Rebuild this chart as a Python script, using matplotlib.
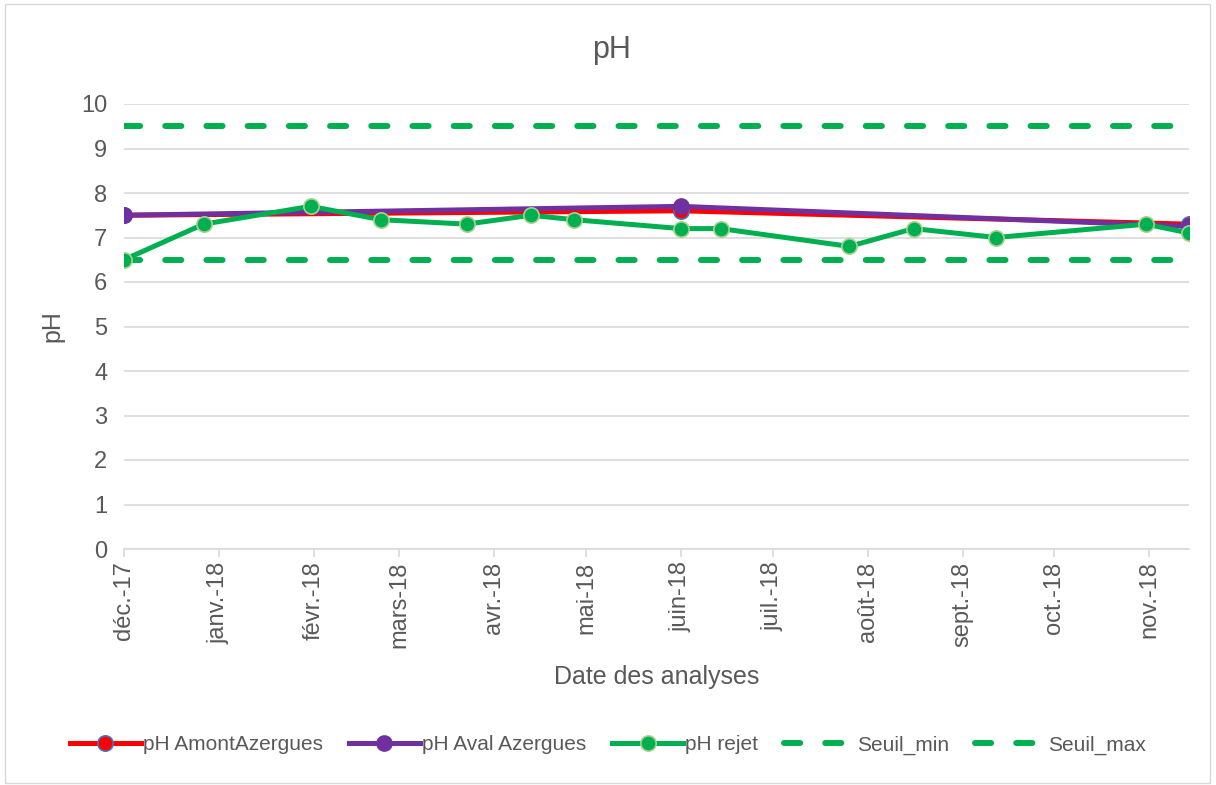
import datetime as dt
import matplotlib
matplotlib.use('Agg')
import matplotlib.pyplot as plt
from matplotlib.patches import Rectangle

# data
amont_dates = ['2017-12-01', '2018-06-01', '2018-11-14']
amont_ph = [7.5, 7.6, 7.3]

aval_dates = ['2017-12-01', '2018-06-01', '2018-11-14']
aval_ph = [7.5, 7.7, 7.25]

rejet_dates = ['2017-12-01', '2017-12-27', '2018-01-31', '2018-02-23', '2018-03-23',
               '2018-04-13', '2018-04-27', '2018-06-01', '2018-06-14', '2018-07-26',
               '2018-08-16', '2018-09-12', '2018-10-31', '2018-11-14']
rejet_ph = [6.5, 7.3, 7.7, 7.4, 7.3, 7.5, 7.4, 7.2, 7.2, 6.8, 7.2, 7.0, 7.3, 7.1]

seuil_min = 6.5
seuil_max = 9.5

month_starts = ['2017-12-01', '2018-01-01', '2018-02-01', '2018-03-01', '2018-04-01',
                '2018-05-01', '2018-06-01', '2018-07-01', '2018-08-01', '2018-09-01',
                '2018-10-01', '2018-11-01']
month_labels = ['déc.-17', 'janv.-18', 'févr.-18', 'mars-18', 'avr.-18', 'mai-18',
                'juin-18', 'juil.-18', 'août-18', 'sept.-18', 'oct.-18', 'nov.-18']


def to_dates(lst):
    return [dt.datetime.strptime(s, '%Y-%m-%d') for s in lst]


plt.rcParams['font.family'] = ['Liberation Sans', 'DejaVu Sans']
gray = '#595959'

W, H = 1216, 785
fig = plt.figure(figsize=(W / 100, H / 100), dpi=100)
fig.patches.append(Rectangle((5 / W, 2 / H), 1205 / W, 779 / H, transform=fig.transFigure,
                             fill=False, edgecolor='#d9d9d9', linewidth=1.0))

ax = fig.add_axes([124 / W, (H - 549) / H, (1189 - 124) / W, (549 - 104) / H])

x0 = dt.datetime(2017, 12, 1)
x1 = dt.datetime(2018, 11, 14)

l1, = ax.plot(to_dates(amont_dates), amont_ph, color='#ff0000', lw=3.6, marker='o',
              ms=11, mfc='#ff0000', mec='#4472c4', mew=1.2, zorder=3, label='pH AmontAzergues')
l2, = ax.plot(to_dates(aval_dates), aval_ph, color='#7030a0', lw=3.6, marker='o',
              ms=11, mfc='#7030a0', mec='#7030a0', mew=1.0, zorder=4, label='pH Aval Azergues')
l3, = ax.plot(to_dates(rejet_dates), rejet_ph, color='#00b050', lw=3.6, marker='o',
              ms=11, mfc='#00b050', mec='#a9d18e', mew=1.2, zorder=5, label='pH rejet')
l4, = ax.plot([x0, x1], [seuil_min, seuil_min], color='#00b050', lw=4.3,
              dashes=(2.7, 4.2), dash_capstyle='round', zorder=2, label='Seuil_min')
l5, = ax.plot([x0, x1], [seuil_max, seuil_max], color='#00b050', lw=4.3,
              dashes=(2.7, 4.2), dash_capstyle='round', zorder=2, label='Seuil_max')

ax.set_xlim(x0, x1)
ax.set_ylim(0, 10)
ax.set_yticks(range(0, 11))
ax.grid(axis='y', color='#d9d9d9', linewidth=1.2)
ax.set_axisbelow(True)
for s in ['top', 'right', 'left']:
    ax.spines[s].set_visible(False)
ax.spines['bottom'].set_color('#d9d9d9')
ax.spines['bottom'].set_linewidth(1.2)

ax.set_xticks(to_dates(month_starts))
ax.set_xticklabels(month_labels, rotation=90)
ax.tick_params(axis='x', colors='#d9d9d9', labelcolor=gray, labelsize=17, length=6,
               width=1.2, pad=3)
ax.tick_params(axis='y', length=0, labelcolor=gray, labelsize=17, pad=12)

ax.set_title('pH', fontsize=22, color=gray, pad=33, x=0.458)
ax.set_ylabel('pH', fontsize=18, color=gray, labelpad=12)
ax.set_xlabel('Date des analyses', fontsize=18, color=gray, labelpad=12)

fig.legend(handles=[l1, l2, l3, l4, l5], loc='center', ncol=5,
           bbox_to_anchor=(0.5, 1 - 745 / H), frameon=False, fontsize=15,
           handlelength=3.4, handletextpad=0.1, columnspacing=1.25,
           labelcolor=gray)

fig.savefig('out.png', dpi=100)
